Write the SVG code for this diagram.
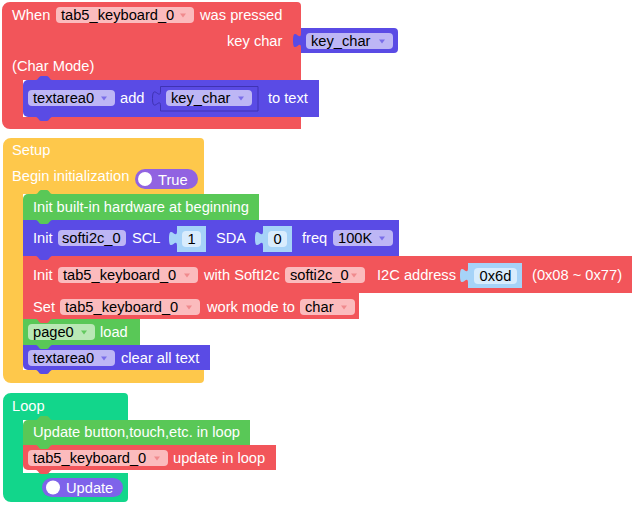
<svg xmlns="http://www.w3.org/2000/svg" xmlns:xlink="http://www.w3.org/1999/xlink" width="639" height="509" viewBox="0 0 639 509">
<style>
text{font-family:"Liberation Sans",Arial,sans-serif;font-size:14.67px}
.l{fill:#ffffff}
.t{fill:#000000}
.c{text-anchor:middle}
.red{fill:#f2555a}
.pur{fill:#5a4be5}
.yel{fill:#fec84b}
.grn{fill:#59c857}
.teal{fill:#12d68b}
.fr{fill:#fbbbbd}
.fp{fill:#bdb6f5}
.fg{fill:#b9e8b5}
.nb{fill:#a6d3f8}
.nf{fill:#d8ecfd}
.ar{fill:#f08a8d}
.ap{fill:#7a6ee9}
.ag{fill:#62c95f}
</style>
<defs>
<path id="arr" d="M0 0h6l-3 4z"/>
<path id="bd" d="M0 0c2 0 3 4 5 4h6c2 0 3-4 5-4z"/>
<path id="bu" d="M0 0c2 0 3-4 5-4h6c2 0 3 4 5 4z"/>
<path id="tab" d="M0 0c0 10-8-8-8 7.5s8-2.5 8 7.5z"/>
</defs>
<g id="connectors"/>

<g id="event-block">
<path class="red" d="M2 10a8 8 0 0 1 8-8H297a4 4 0 0 1 4 4V80H23V117H301V129H10a8 8 0 0 1-8-8Z"/>
<text class="l" x="12" y="20">When</text>
<rect class="fr" x="56" y="7" width="138" height="16" rx="4"/>
<text class="t" x="61" y="20">tab5_keyboard_0</text>
<use href="#arr" class="ar" x="180" y="13.5"/>
<text class="l" x="200" y="20">was pressed</text>
<text class="l" x="227" y="46">key char</text>
<text class="l" x="12" y="71">(Char Mode)</text>
</g>

<g id="key-char-var">
<path class="pur" d="M301 28H394a4 4 0 0 1 4 4V49a4 4 0 0 1-4 4H301V48c0-10-8 8-8-7.5s8 2.5 8-7.5Z"/>
<rect class="fp" x="306" y="33" width="87" height="16" rx="4"/>
<text class="t" x="311" y="46">key_char</text>
<use href="#arr" class="ap" x="379" y="39.5"/>
</g>

<g id="textarea-add">
<path class="pur" d="M23 85a5 5 0 0 1 5-5H319V117H28a5 5 0 0 1-5-5Z"/>
<use href="#bu" class="pur" x="36" y="80"/>
<use href="#bd" class="pur" x="36" y="117"/>
<rect class="fp" x="28" y="90" width="87" height="16" rx="4"/>
<text class="t" x="33" y="103">textarea0</text>
<use href="#arr" class="ap" x="101" y="96.5"/>
<text class="l" x="120" y="103">add</text>
<path class="pur" stroke="#3f33b3" stroke-width="1" d="M160.5 86.5H258V111H160.5V106c0-10-8 8-8-7.5s8 2.5 8-7.5Z"/>
<rect class="fp" x="166" y="90" width="86" height="16" rx="4"/>
<text class="t" x="171" y="103">key_char</text>
<use href="#arr" class="ap" x="238" y="96.5"/>
<text class="l" x="268" y="103">to text</text>
</g>

<g id="setup-block">
<path class="yel" d="M3 146a8 8 0 0 1 8-8H200a4 4 0 0 1 4 4V194H23V370H204V379a4 4 0 0 1-4 4H11a8 8 0 0 1-8-8Z"/>
<text class="l" x="12" y="155">Setup</text>
<text class="l" x="12" y="181">Begin initialization</text>
<rect x="135" y="169" width="63" height="20" rx="10" fill="#9163e1"/>
<circle cx="145" cy="179" r="7" fill="#ffffff"/>
<text class="l" x="158" y="185">True</text>
</g>

<g id="textarea-clear">
<path class="pur" d="M23 345H210V370H28a5 5 0 0 1-5-5Z"/>
<use href="#bd" class="pur" x="36" y="370"/>
<rect class="fp" x="28" y="350" width="87" height="16" rx="4"/>
<text class="t" x="33" y="363">textarea0</text>
<use href="#arr" class="ap" x="101" y="356.5"/>
<text class="l" x="121" y="363">clear all text</text>
</g>

<g id="page-load">
<rect class="grn" x="23" y="319" width="117" height="26"/>
<use href="#bd" class="grn" x="36" y="345"/>
<rect class="fg" x="28" y="324" width="67" height="16" rx="4"/>
<text class="t" x="33" y="337">page0</text>
<use href="#arr" class="ag" x="81" y="330.5"/>
<text class="l" x="100" y="337">load</text>
</g>

<g id="set-mode">
<rect class="red" x="23" y="293" width="336" height="26"/>
<use href="#bd" class="red" x="36" y="319"/>
<text class="l" x="33" y="312">Set</text>
<rect class="fr" x="60" y="299" width="140" height="16" rx="4"/>
<text class="t" x="65" y="312">tab5_keyboard_0</text>
<use href="#arr" class="ar" x="186" y="305.5"/>
<text class="l" x="207" y="312">work mode to</text>
<rect class="fr" x="300" y="299" width="55" height="16" rx="4"/>
<text class="t" x="305" y="312">char</text>
<use href="#arr" class="ar" x="341" y="305.5"/>
</g>

<g id="init-keyboard">
<rect class="red" x="23" y="256" width="609" height="37"/>
<use href="#bd" class="red" x="36" y="293"/>
<text class="l" x="33" y="280">Init</text>
<rect class="fr" x="58" y="267" width="140" height="16" rx="4"/>
<text class="t" x="63" y="280">tab5_keyboard_0</text>
<use href="#arr" class="ar" x="184" y="273.5"/>
<text class="l" x="204" y="280">with SoftI2c</text>
<rect class="fr" x="285" y="267" width="80" height="16" rx="4"/>
<text class="t" x="290" y="280">softi2c_0</text>
<use href="#arr" class="ar" x="351" y="273.5"/>
<text class="l" x="377" y="280">I2C address</text>
<rect class="nb" x="468" y="263" width="54" height="25"/>
<use href="#tab" class="nb" x="468" y="268"/>
<rect class="nf" x="474" y="268" width="43" height="16" rx="4"/>
<text class="t c" x="495.5" y="281">0x6d</text>
<text class="l" x="532" y="280">(0x08 ~ 0x77)</text>
</g>

<g id="init-softi2c">
<rect class="pur" x="23" y="220" width="376" height="36"/>
<use href="#bd" class="pur" x="36" y="256"/>
<text class="l" x="33" y="243">Init</text>
<rect class="fp" x="58" y="230" width="68" height="16" rx="4"/>
<text class="t" x="62" y="243">softi2c_0</text>
<text class="l" x="132" y="243">SCL</text>
<rect class="nb" x="177" y="226" width="29" height="26"/>
<use href="#tab" class="nb" x="177" y="231"/>
<rect class="nf" x="182" y="231" width="19" height="16" rx="4"/>
<text class="t c" x="191.5" y="244">1</text>
<text class="l" x="216" y="243">SDA</text>
<rect class="nb" x="263" y="226" width="29" height="26"/>
<use href="#tab" class="nb" x="263" y="231"/>
<rect class="nf" x="268" y="231" width="19" height="16" rx="4"/>
<text class="t c" x="277.5" y="244">0</text>
<text class="l" x="302" y="243">freq</text>
<rect class="fp" x="333" y="230" width="60" height="16" rx="4"/>
<text class="t" x="338" y="243">100K</text>
<use href="#arr" class="ap" x="379" y="236.5"/>
</g>

<g id="init-hardware">
<path class="grn" d="M23 199a5 5 0 0 1 5-5H259V220H23Z"/>
<use href="#bu" class="grn" x="36" y="194"/>
<use href="#bd" class="grn" x="36" y="220"/>
<text class="l" x="33" y="212">Init built-in hardware at beginning</text>
</g>

<g id="loop-block">
<path class="teal" d="M3 401a8 8 0 0 1 8-8H124a4 4 0 0 1 4 4V420H23V473H128V498a4 4 0 0 1-4 4H11a8 8 0 0 1-8-8Z"/>
<text class="l" x="12" y="411">Loop</text>
<rect x="42" y="478" width="81" height="19" rx="9.5" fill="#7e63ea"/>
<circle cx="53" cy="487.5" r="7" fill="#ffffff"/>
<text class="l" x="66" y="493">Update</text>
</g>

<g id="keyboard-update">
<path class="red" d="M23 445H276V470H28a5 5 0 0 1-5-5Z"/>
<use href="#bd" class="red" x="36" y="470"/>
<rect class="fr" x="28" y="450" width="140" height="16" rx="4"/>
<text class="t" x="33" y="463">tab5_keyboard_0</text>
<use href="#arr" class="ar" x="154" y="456.5"/>
<text class="l" x="173" y="463">update in loop</text>
</g>

<g id="update-loop">
<path class="grn" d="M23 425a5 5 0 0 1 5-5H250V445H23Z"/>
<use href="#bu" class="grn" x="36" y="420"/>
<use href="#bd" class="grn" x="36" y="445"/>
<text class="l" x="33" y="437">Update button,touch,etc. in loop</text>
</g>
</svg>
